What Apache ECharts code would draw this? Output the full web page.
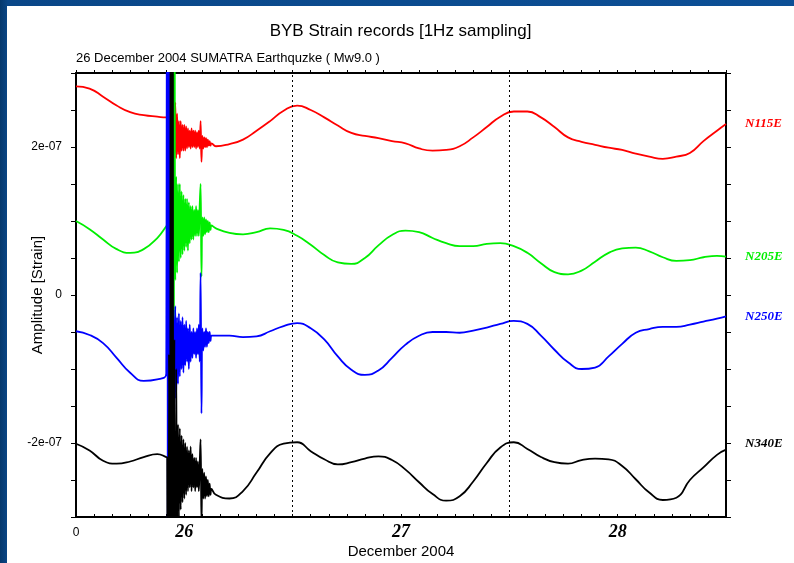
<!DOCTYPE html>
<html>
<head>
<meta charset="utf-8">
<script src="https://cdn.jsdelivr.net/npm/echarts@6/dist/echarts.min.js"></script>
<style>
html,body{margin:0;padding:0;width:794px;height:563px;overflow:hidden;}
body{background:linear-gradient(90deg,#05386c 0px,#0a4788 8px,#0c4f96 100%);}
#chart{position:absolute;left:7px;top:6px;width:787px;height:557px;background:#fff;}
</style>
</head>
<body>
<div id="chart"></div>
<script>
// ---- DATA (amplitudes in units of 1e-7 strain, time in hours from plot start) ----
const seriesNames = ['N115E', 'N205E', 'N250E', 'N340E'];
const seriesColors = ['#ff0000', '#00ee00', '#0000ff', '#000000'];

const xTickValues = [0, 12, 36, 60];
const xTickLabels = ['0', '26', '27', '28'];
const yTickValues = [-2, 0, 2];
const yTickLabels = ['-2e-07', '0', '2e-07'];
const dayBoundaries = [24, 48];

// before the quake
const preHours = [0, 1.5, 3, 4.5, 6, 7.5, 9, 10];
const preN115E = [2.82, 2.79, 2.68, 2.56, 2.47, 2.43, 2.41, 2.40];
const preN205E = [1.00, 0.89, 0.75, 0.62, 0.57, 0.62, 0.77, 0.93];
const preN250E = [-0.49, -0.54, -0.65, -0.85, -1.05, -1.16, -1.14, -1.06];
const preN340E = [-2.01, -2.10, -2.24, -2.28, -2.25, -2.19, -2.15, -2.19];

// the quake and its coda
const quakeHours = [10.1, 10.2, 10.3, 10.4, 10.5, 10.6, 10.7, 10.8, 10.9, 11.0,
  11.1, 11.2, 11.3, 11.4, 11.5, 11.6, 11.7, 11.8, 11.9, 12.0,
  12.1, 12.2, 12.3, 12.4, 12.5, 12.6, 12.7, 12.8, 12.9, 13.0,
  13.1, 13.2, 13.3, 13.4, 13.5, 13.6, 13.7, 13.8, 13.9, 14.0,
  14.1, 14.2, 14.3, 14.4, 14.5, 14.6, 14.7, 14.8, 14.9, 15.0];
const quakeN115E = [2.40, 2.42, 2.38, 2.40, 2.40, 2.38, 2.45, 2.75, 1.85, 2.60,
  1.85, 2.45, 1.90, 2.35, 1.85, 2.35, 1.95, 2.30, 1.95, 2.30,
  1.95, 2.28, 1.98, 2.25, 2.00, 2.22, 1.98, 2.25, 2.00, 2.22,
  2.00, 2.22, 1.98, 2.20, 2.00, 2.22, 1.98, 2.35, 1.80, 2.15,
  1.98, 2.13, 2.00, 2.12, 2.00, 2.10, 2.02, 2.08, 2.02, 2.05];
const quakeN205E = [0.95, 1.00, 0.90, 1.10, 1.10, 0.90, 10, -10, 10, 0.20,
  1.60, 0.30, 1.50, 0.45, 1.50, 0.50, 1.40, 0.55, 1.35, 0.60,
  1.30, 0.65, 1.30, 0.60, 1.25, 0.70, 1.20, 0.75, 1.20, 0.75,
  1.15, 0.80, 1.20, 0.80, 1.15, 0.80, 1.20, 1.50, 0.25, 1.05,
  0.80, 1.05, 0.82, 1.02, 0.85, 1.00, 0.85, 0.98, 0.88, 0.94];
const quakeN250E = [10, -10, 10, -10, 10, -10, -1.50, -0.20, -1.55, -0.15,
  -1.40, -0.30, -1.20, -0.25, -1.10, -0.35, -1.00, -0.30, -1.05, -0.40,
  -0.95, -0.35, -0.90, -0.45, -1.00, -0.40, -0.90, -0.50, -0.85, -0.45,
  -0.80, -0.50, -0.85, -0.45, -0.80, -0.40, -0.90, 0.30, -1.60, -0.45,
  -0.75, -0.50, -0.70, -0.45, -0.70, -0.50, -0.65, -0.50, -0.62, -0.55];
const quakeN340E = [-2.20, -10, -0.80, -10, 10, -10, 10, -10, -0.60, -10,
  -1.00, -3.20, -1.75, -3.00, -1.80, -2.90, -1.90, -2.80, -1.95, -2.75,
  -2.00, -2.70, -2.05, -2.65, -2.10, -2.60, -2.05, -2.65, -2.15, -2.60,
  -2.20, -2.65, -2.20, -2.60, -2.25, -2.65, -2.30, -1.95, -3.10, -2.35,
  -2.75, -2.40, -2.75, -2.45, -2.72, -2.50, -2.72, -2.55, -2.70, -2.62];

// after the quake
const postHours = [15.5, 17.0, 18.5, 20.0, 21.5, 23.0, 24.5, 26.0, 27.5, 29.0,
  30.5, 32.0, 33.5, 35.0, 36.5, 38.0, 39.5, 41.0, 42.5, 44.0,
  45.5, 47.0, 48.5, 50.0, 51.5, 53.0, 54.5, 56.0, 57.5, 59.0,
  60.5, 62.0, 63.5, 65.0, 66.5, 68.0, 69.5, 71.0, 72.0];
const postN115E = [2.01, 2.04, 2.10, 2.22, 2.35, 2.49, 2.56, 2.50, 2.40, 2.29,
  2.19, 2.15, 2.12, 2.08, 2.05, 1.98, 1.95, 1.96, 2.01, 2.13,
  2.27, 2.41, 2.48, 2.48, 2.40, 2.27, 2.13, 2.07, 2.03, 1.99,
  1.96, 1.91, 1.87, 1.84, 1.87, 1.92, 2.08, 2.22, 2.31];
const postN205E = [0.90, 0.84, 0.82, 0.85, 0.90, 0.88, 0.80, 0.68, 0.54, 0.44,
  0.42, 0.50, 0.67, 0.81, 0.87, 0.85, 0.77, 0.70, 0.66, 0.66,
  0.69, 0.70, 0.66, 0.57, 0.43, 0.31, 0.28, 0.33, 0.45, 0.57,
  0.63, 0.64, 0.59, 0.51, 0.46, 0.47, 0.51, 0.53, 0.52];
const postN250E = [-0.55, -0.55, -0.57, -0.56, -0.49, -0.42, -0.38, -0.45, -0.60, -0.83,
  -1.01, -1.08, -1.02, -0.85, -0.67, -0.55, -0.50, -0.50, -0.51, -0.48,
  -0.44, -0.39, -0.35, -0.39, -0.55, -0.74, -0.91, -1.00, -0.98, -0.83,
  -0.66, -0.51, -0.46, -0.43, -0.43, -0.40, -0.36, -0.32, -0.29];
const postN340E = [-2.70, -2.75, -2.65, -2.40, -2.14, -2.01, -1.99, -2.11, -2.22, -2.29,
  -2.26, -2.21, -2.18, -2.23, -2.36, -2.53, -2.69, -2.78, -2.72, -2.52,
  -2.27, -2.06, -1.99, -2.08, -2.19, -2.26, -2.28, -2.23, -2.21, -2.22,
  -2.31, -2.49, -2.67, -2.77, -2.74, -2.50, -2.33, -2.16, -2.09];

const preValues = [preN115E, preN205E, preN250E, preN340E];
const quakeValues = [quakeN115E, quakeN205E, quakeN250E, quakeN340E];
const postValues = [postN115E, postN205E, postN250E, postN340E];
const endLabelOffsets = [[0, 0], [0, 0], [0, 0], [0, -6]];

// ---- build ----
function pairs(h, v) { return h.map((t, i) => [t, v[i]]); }
const series = seriesNames.map((name, k) => ({
  name: name,
  type: 'line',
  showSymbol: false,
  smooth: 0.5,
  clip: true,
  lineStyle: { color: seriesColors[k], width: 1.8 },
  itemStyle: { color: seriesColors[k] },
  data: pairs(preHours, preValues[k])
    .concat(pairs(quakeHours, quakeValues[k]))
    .concat(pairs(postHours, postValues[k])),
  endLabel: {
    show: true,
    formatter: name,
    distance: 19,
    offset: endLabelOffsets[k],
    color: seriesColors[k],
    fontFamily: 'Liberation Serif',
    fontStyle: 'italic',
    fontWeight: 'bold',
    fontSize: 13
  },
  z: 2 + k
}));
series[0].markLine = {
  silent: true,
  symbol: ['none', 'none'],
  label: { show: false },
  lineStyle: { color: '#000', width: 1, type: [2, 3] },
  data: dayBoundaries.map(v => ({ xAxis: v }))
};

const axisLineStyle = { show: true, onZero: false, lineStyle: { color: '#000', width: 2 } };
const chart = echarts.init(document.getElementById('chart'), null, { renderer: 'canvas' });
chart.setOption({
  animation: false,
  backgroundColor: '#ffffff',
  title: [
    { text: 'BYB Strain records [1Hz sampling]', left: 'center', top: 17, padding: 0,
      textStyle: { fontFamily: 'Liberation Sans', fontSize: 17, fontWeight: 'normal', color: '#000' } },
    { text: '26 December 2004 SUMATRA Earthquzke ( Mw9.0 )', left: 69, top: 46, padding: 0,
      textStyle: { fontFamily: 'Liberation Sans', fontSize: 13, fontWeight: 'normal', color: '#000' } }
  ],
  grid: { left: 69, top: 67, right: 68, bottom: 46, containLabel: false, outerBoundsMode: 'none' },
  xAxis: [
    { type: 'value', min: 0, max: 72, interval: 2, position: 'bottom',
      axisLine: axisLineStyle,
      axisTick: { show: true, inside: true, length: 3, lineStyle: { color: '#000', width: 1 } },
      splitLine: { show: false },
      axisLabel: {
        customValues: xTickValues,
        margin: 6,
        formatter: function (v) {
          const i = xTickValues.indexOf(v);
          if (i < 0) return '';
          return i === 0 ? '{z|' + xTickLabels[i] + '}' : '{d|' + xTickLabels[i] + '}';
        },
        rich: {
          z: { fontFamily: 'Liberation Sans', fontSize: 12, color: '#000', padding: [4, 0, 0, 0] },
          d: { fontFamily: 'Liberation Serif', fontStyle: 'italic', fontWeight: 'bold', fontSize: 18, color: '#000' }
        }
      },
      name: 'December 2004', nameLocation: 'middle', nameGap: 27, nameMoveOverlap: false,
      nameTextStyle: { fontFamily: 'Liberation Sans', fontSize: 15, color: '#000' }
    },
    { type: 'value', min: 0, max: 72, interval: 2, position: 'top',
      axisLine: axisLineStyle,
      axisTick: { show: true, inside: false, length: 3, lineStyle: { color: '#000', width: 1 } },
      splitLine: { show: false }, axisLabel: { show: false }
    }
  ],
  yAxis: [
    { type: 'value', min: -3, max: 3, interval: 0.5, position: 'left',
      axisLine: axisLineStyle,
      axisTick: { show: true, inside: false, length: 5, lineStyle: { color: '#000', width: 1 } },
      splitLine: { show: false },
      axisLabel: {
        margin: 14, fontFamily: 'Liberation Sans', fontSize: 12, color: '#000',
        formatter: function (v) {
          const i = yTickValues.indexOf(v);
          return i < 0 ? '' : yTickLabels[i];
        }
      },
      name: 'Amplitude [Strain]', nameLocation: 'middle', nameGap: 31, nameRotate: 90, nameMoveOverlap: false,
      nameTextStyle: { fontFamily: 'Liberation Sans', fontSize: 15, color: '#000' }
    },
    { type: 'value', min: -3, max: 3, interval: 0.5, position: 'right',
      axisLine: axisLineStyle,
      axisTick: { show: true, inside: false, length: 5, lineStyle: { color: '#000', width: 1 } },
      splitLine: { show: false }, axisLabel: { show: false }
    }
  ],
  series: series
});
</script>
</body>
</html>
